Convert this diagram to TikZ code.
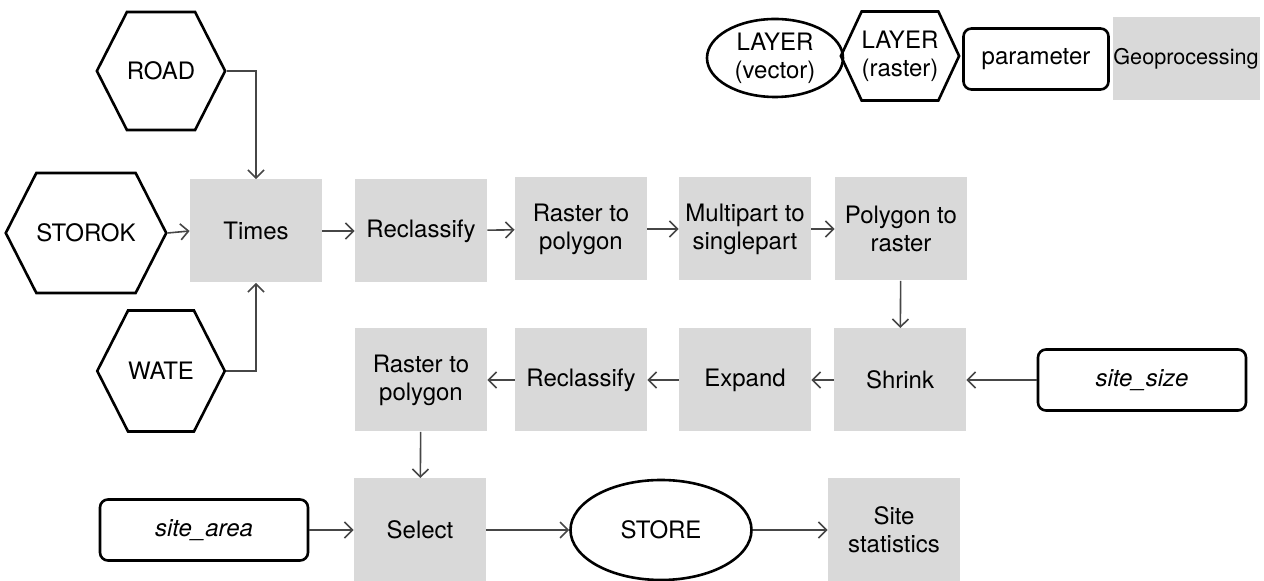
\documentclass[tikz,border=0pt]{standalone}
\usepackage{fontspec}
\setmainfont{TeX Gyre Heros}
\usepackage{tikz}
\usetikzlibrary{shapes.geometric,shapes.symbols,arrows.meta}

\definecolor{procgray}{RGB}{217,217,217}
\definecolor{linegray}{RGB}{70,70,70}

\begin{document}
\begin{tikzpicture}[x=0.5pt,y=-0.5pt,
    font=\fontsize{12}{14}\selectfont,
    every node/.style={align=center,inner sep=0pt},
    proc/.style={fill=procgray,minimum width=66pt,minimum height=51.5pt},
    raster/.style={signal,signal to=east and west,signal pointer angle=126,
      draw,line width=1.3pt,minimum width=#1},
    raster/.default=60.5pt,
    vector/.style={ellipse,draw,line width=1.3pt},
    param/.style={rounded corners=4pt,draw,line width=1.3pt,
      minimum width=104pt,minimum height=30.5pt},
    flow/.style={draw=linegray,line width=0.8pt,
      -{Straight Barb[length=4pt,width=8pt]}}]
      \useasboundingbox (0,0) rectangle (1264,581);

      % Legend
      \node[vector,minimum width=68pt,minimum height=39pt] (legvec) at (775,58) {LAYER\\(vector)};
      \node[raster=56.5pt,minimum height=44.5pt,signal pointer angle=130] (legras) at (900,56) {LAYER\\(raster)};
      \node[param,minimum width=72.5pt] (legpar) at (1036,59) {parameter};
      \node[proc,minimum width=73.5pt,minimum height=41.5pt,font=\fontsize{10.8}{13}\selectfont] (legproc) at (1186,59) {Geoprocessing};

      % Layers
      \node[raster,minimum height=59pt] (road) at (161,71) {ROAD};
      \node[raster=75.5pt,minimum height=60pt] (storok) at (86,233) {STOROK};
      \node[raster,minimum height=60.5pt] (wate) at (161,371) {WATE};

      % Top row
      \node[proc] (times) at (256,231) {Times};
      \node[proc] (recl) at (421,231) {Reclassify};
      \node[proc] (rtp) at (581,229) {Raster to\\polygon};
      \node[proc] (multi) at (745,229) {Multipart to\\singlepart};
      \node[proc] (ptr) at (901,229) {Polygon to\\raster};

      % Middle row
      \node[proc] (shrink) at (900,380) {Shrink};
      \node[proc] (expand) at (745,380) {Expand};
      \node[proc] (recltwo) at (581,380) {Reclassify};
      \node[proc] (rtptwo) at (421,380) {Raster to\\polygon};
      \node[param] (sitesize) at (1142,380) {\textit{site\_size}};

      % Bottom row
      \node[param] (sitearea) at (204,530) {\textit{site\_area}};
      \node[proc] (select) at (420,530) {Select};
      \node[vector,minimum width=90.5pt,minimum height=50pt] (store) at (661,530) {STORE};
      \node[proc] (stats) at (894,530) {Site\\statistics};

      % Connectors
      \draw[flow] (road.east) -| (times.north);
      \draw[flow] (storok.east) -- (times.west);
      \draw[flow] (wate.east) -| (times.south);
      \draw[flow] (times) -- (recl);
      \draw[flow] (recl) -- (rtp);
      \draw[flow] (rtp) -- (multi);
      \draw[flow] (multi) -- (ptr);
      \draw[flow] (ptr) -- (shrink);
      \draw[flow] (sitesize) -- (shrink);
      \draw[flow] (shrink) -- (expand);
      \draw[flow] (expand) -- (recltwo);
      \draw[flow] (recltwo) -- (rtptwo);
      \draw[flow] (rtptwo) -- (select);
      \draw[flow] (sitearea) -- (select);
      \draw[flow] (select) -- (store);
      \draw[flow] (store) -- (stats);
\end{tikzpicture}
\end{document}
